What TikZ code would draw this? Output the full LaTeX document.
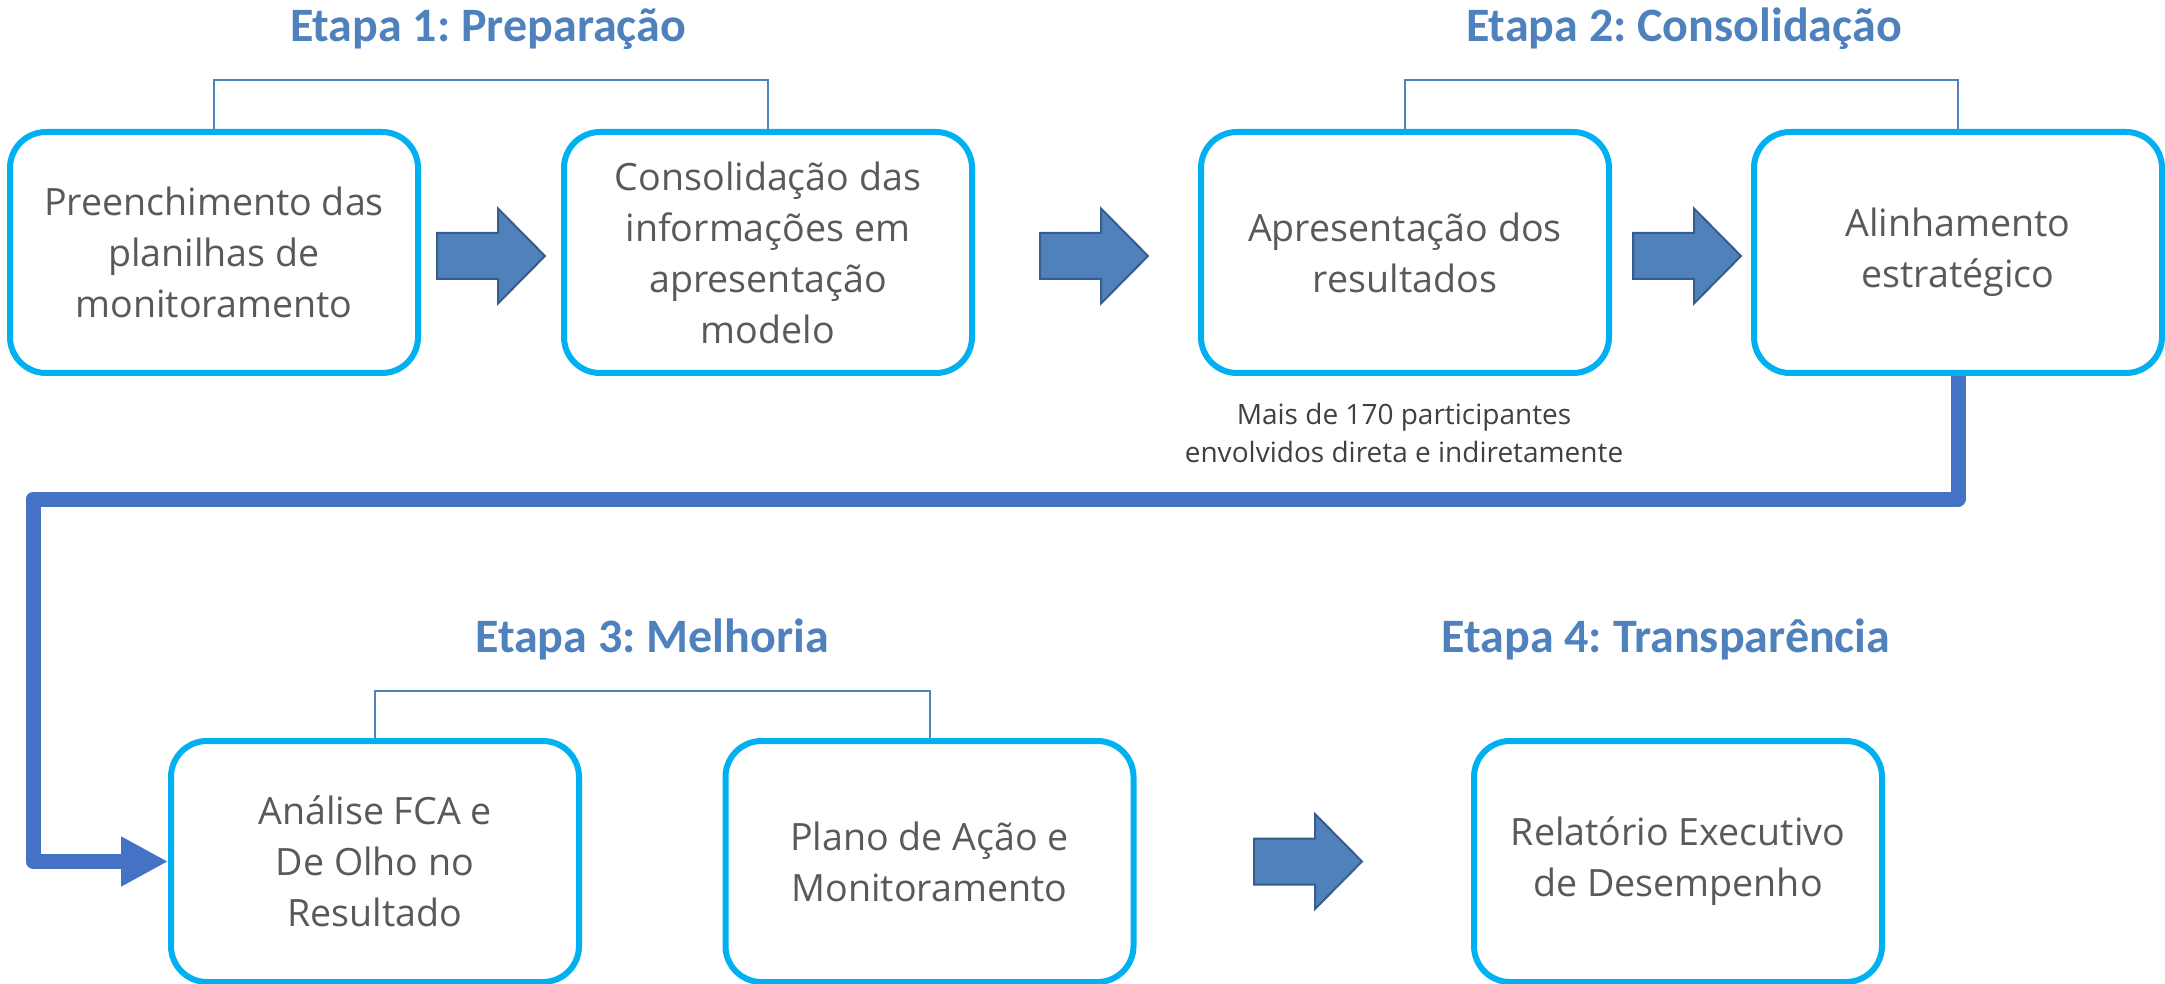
\documentclass[tikz,border=0pt]{standalone}
\usepackage{fontspec}
\setmainfont{Open Sans}
\newfontfamily\etapafont{Carlito}
\frenchspacing
\usetikzlibrary{arrows.meta}
\definecolor{boxcyan}{HTML}{00B0F0}
\definecolor{etapablue}{HTML}{4F81BD}
\definecolor{arrowedge}{HTML}{385D8A}
\definecolor{flowblue}{HTML}{4472C4}
\definecolor{textgray}{HTML}{595959}
\definecolor{notegray}{HTML}{404040}
\newcommand{\blocoseta}[2] % x of tail, y of centre (in px)
{
	% shaft 61 long and 46 high, head 47 long and 95 high
	\draw[fill=etapablue, draw=arrowedge, line width=1pt]
		(#1,#2-23) -- (#1+61,#2-23) -- (#1+61,#2-47.5) -- (#1+108,#2)
		-- (#1+61,#2+47.5) -- (#1+61,#2+23) -- (#1,#2+23) -- cycle;
}

\begin{document}
\begin{tikzpicture}[x=0.5pt, y=-0.5pt,
	caixa/.style={draw=boxcyan, line width=3pt, rounded corners=18pt,
		minimum width=204pt, minimum height=120.5pt, inner sep=0pt,
		align=center, text=textgray, font=\fontsize{18.8}{25.5}\selectfont},
	titulo/.style={anchor=base, text=etapablue, inner sep=0pt,
		font=\etapafont\bfseries\fontsize{24}{28}\selectfont},
	chave/.style={draw=etapablue, line width=1pt},
	fluxo/.style={draw=flowblue, line width=7.5pt, line join=round,
		-{Triangle[length=23.5pt, width=23.5pt]}}]
	% canvas 2165 x 984 px
	\useasboundingbox (0,0) rectangle (2165,984);

	% Etapa 1 and 2
	\node[caixa] (b1) at (214,252.5) {Preenchimento das\\planilhas de\\monitoramento};
	\node[caixa] (b2) at (768,252.5) {Consolidação das\\informações em\\apresentação\\modelo};
	\node[caixa] (b3) at (1405,252.5) {Apresentação dos\\resultados};
	\node[caixa] (b4) at (1958,252.5) {Alinhamento\\estratégico};

	% Etapa 3 and 4
	\node[caixa] (b5) at (375,861.5) {Análise FCA e\\De Olho no\\Resultado};
	\node[caixa] (b6) at (929.5,861.5) {Plano de Ação e\\Monitoramento};
	\node[caixa] (b7) at (1678,861.5) {Relatório Executivo\\de Desempenho};

	% titles
	\node[titulo] (t1) at (488,42) {Etapa 1: Preparação};
	\node[titulo] (t2) at (1684,42) {Etapa 2: Consolidação};
	\node[titulo] (t3) at (652,652) {Etapa 3: Melhoria};
	\node[titulo] (t4) at (1666,652) {Etapa 4: Transparência};

	% brackets
	\draw[chave] (b1.north) -- ++(0,-49) -| (b2.north);
	\draw[chave] (b3.north) -- ++(0,-49) -| (b4.north);
	\draw[chave] (b5.north) -- ++(0,-47) -| (b6.north);

	% block arrows
	\blocoseta{437}{256}
	\blocoseta{1040}{256}
	\blocoseta{1633}{256}
	\blocoseta{1254}{861.5}

	% note under b3
	\node[align=center, text=notegray, inner sep=0pt,
		font=\fontsize{14}{18.8}\selectfont] (nota) at (1404,433)
		{Mais de 170 participantes\\envolvidos direta e indiretamente};

	% return path
	\coordinate (canto) at (33,499);
	\draw[fluxo] (b4.south) |- (canto) |- (b5.west);
\end{tikzpicture}
\end{document}
